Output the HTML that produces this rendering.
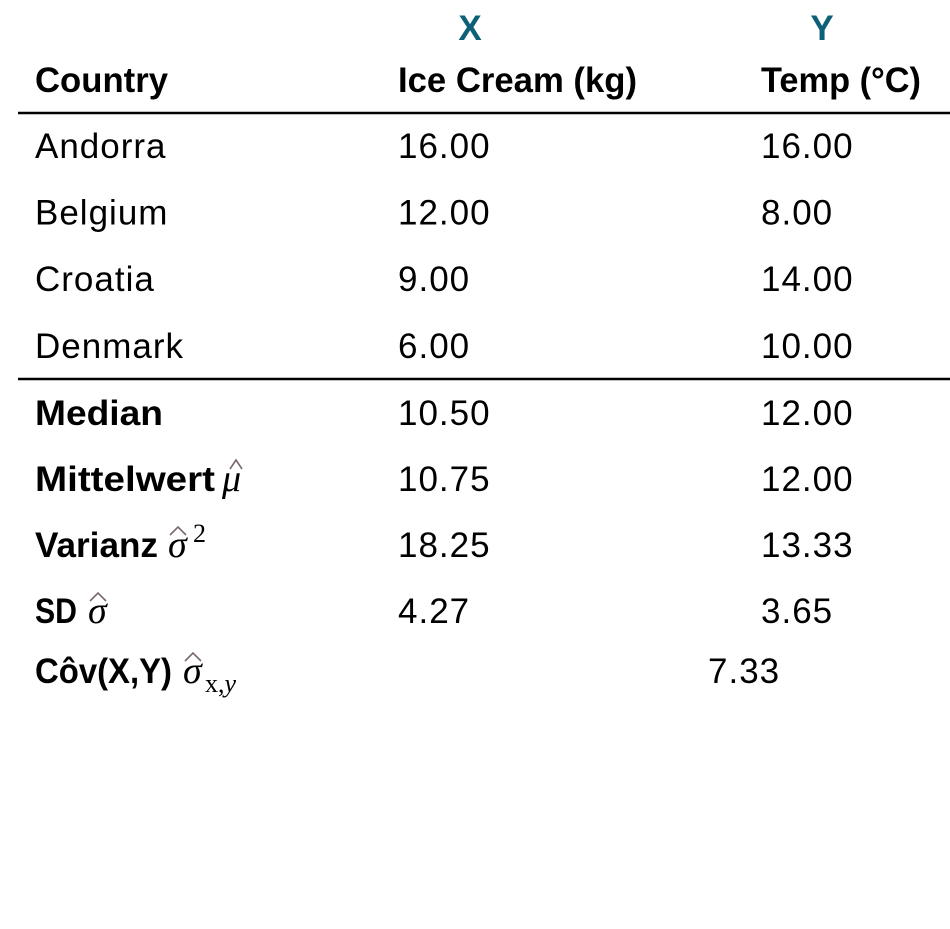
<!DOCTYPE html>
<html><head><meta charset="utf-8">
<style>
html,body{margin:0;padding:0;background:#fff;}
svg{display:block;}
text{font-family:"Liberation Sans",sans-serif;font-size:35px;fill:#000;letter-spacing:1px;}
.b{font-weight:bold;letter-spacing:0;}
.m{font-family:"Liberation Serif",serif;font-style:italic;font-size:38px;letter-spacing:0;}
.s{font-family:"Liberation Serif",serif;font-size:26px;letter-spacing:0;}
.hat{fill:none;stroke:#7a6a6a;stroke-width:1.6;}
</style></head>
<body>
<svg id="tbl" width="950" height="929" viewBox="0 0 950 929">
  <text x="470" y="40" text-anchor="middle" class="b" style="fill:#0e5f78">X</text>
  <text x="822" y="40" text-anchor="middle" class="b" style="fill:#0e5f78">Y</text>
  <text x="35" y="92" class="b" textLength="133" lengthAdjust="spacingAndGlyphs">Country</text>
  <text x="398" y="92" class="b" textLength="239" lengthAdjust="spacingAndGlyphs">Ice Cream (kg)</text>
  <text x="761" y="92" class="b" textLength="160" lengthAdjust="spacingAndGlyphs">Temp (°C)</text>
  <line x1="18" y1="113" x2="950" y2="113" stroke="#000" stroke-width="2.5"/>
  <g id="rows"></g>
  <line x1="18" y1="379" x2="950" y2="379" stroke="#000" stroke-width="2.5"/>

  <text x="35" y="425" class="b" textLength="128" lengthAdjust="spacingAndGlyphs">Median</text>
  <text x="398" y="425">10.50</text>
  <text x="761" y="425">12.00</text>

  <text x="35" y="491" class="b" textLength="180" lengthAdjust="spacingAndGlyphs">Mittelwert</text>
  <text x="222" y="491" class="m">μ</text>
  <path class="hat" d="M230 469 L236 460 L242 469"/>
  <text x="398" y="491">10.75</text>
  <text x="761" y="491">12.00</text>

  <text x="35" y="557" class="b" textLength="123" lengthAdjust="spacingAndGlyphs">Varianz</text>
  <text x="168" y="557" class="m">σ</text>
  <text x="193" y="542" class="s">2</text>
  <path class="hat" d="M170 535 L178 527 L186 535"/>
  <text x="398" y="557">18.25</text>
  <text x="761" y="557">13.33</text>

  <text x="35" y="623" class="b" textLength="42" lengthAdjust="spacingAndGlyphs">SD</text>
  <text x="88" y="623" class="m">σ</text>
  <path class="hat" d="M90 601 L98 593 L106 601"/>
  <text x="398" y="623">4.27</text>
  <text x="761" y="623">3.65</text>

  <text x="35" y="683" class="b" textLength="137" lengthAdjust="spacingAndGlyphs">Côv(X,Y)</text>
  <text x="183" y="683" class="m">σ</text>
  <text x="205" y="692" class="s">x,<tspan font-style="italic">y</tspan></text>
  <path class="hat" d="M185 661 L193 653 L201 661"/>
  <text x="708" y="683">7.33</text>
</svg>
<script>
const countries = ["Andorra", "Belgium", "Croatia", "Denmark"];
const iceCream = [16, 12, 9, 6];
const temps = [16, 8, 14, 10];

const g = document.getElementById('rows');
const NS = 'http://www.w3.org/2000/svg';
function rowY(i){ return 158 + i * 66.6; }
countries.forEach((c, i) => {
  const cells = [[35, c, 'country-name'], [398, iceCream[i].toFixed(2), 'ice-cream-value'], [761, temps[i].toFixed(2), 'temp-value']];
  cells.forEach(cell => {
    const t = document.createElementNS(NS, 'text');
    t.setAttribute('x', cell[0]);
    t.setAttribute('y', rowY(i));
    t.textContent = cell[1];
    
    
    g.appendChild(t);
  });
});
</script>
</body></html>
